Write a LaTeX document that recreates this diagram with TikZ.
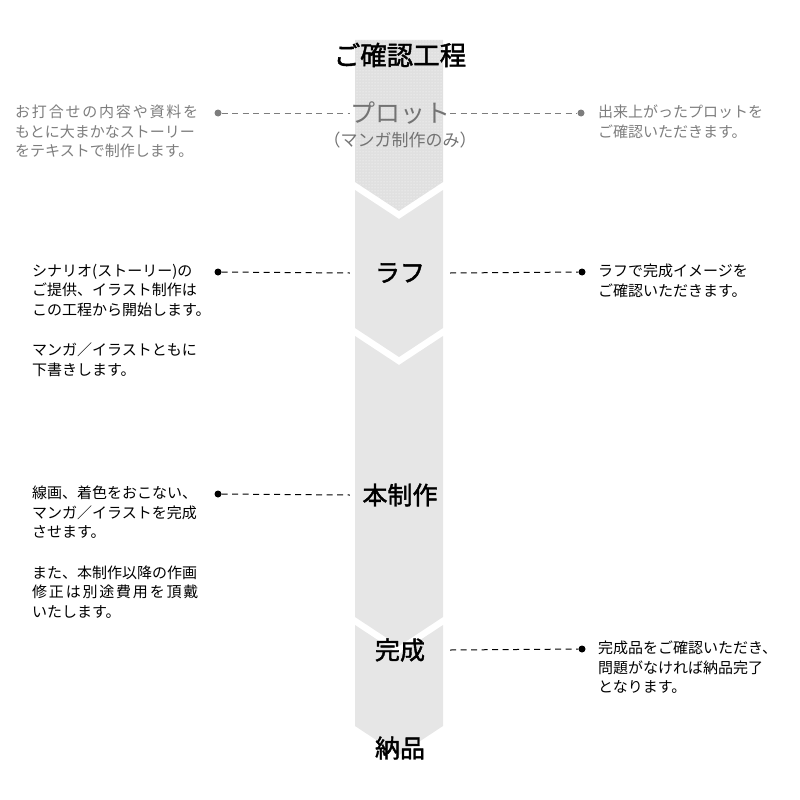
\documentclass[tikz,border=0pt]{standalone}
\usepackage{fontspec}
\setmainfont{Noto Sans CJK JP}
\newfontfamily\stagefont[FakeBold=1.6]{Noto Sans CJK JP}
\usetikzlibrary{patterns}
\definecolor{barfill}{RGB}{230,230,230}
\definecolor{plotfill}{RGB}{224,224,224}
\definecolor{plotgray}{RGB}{115,115,115}
\definecolor{notegray}{RGB}{125,125,125}
\newcommand{\wide}[1]{{\addfontfeature{LetterSpace=12}#1}}
\tikzset{
  stage/.style={inner sep=0pt, minimum width=100pt, font=\fontsize{25}{30}\stagefont},
  substage/.style={inner sep=0pt, font=\fontsize{17}{20}\selectfont},
  headline/.style={inner sep=0pt, font=\fontsize{26.5}{31}\stagefont},
  note/.style={anchor=north west, align=left, inner sep=0pt, font=\fontsize{15}{19.5}\selectfont},
  endpt/.style={circle, fill=black, inner sep=0pt, minimum size=7pt},
  link/.style={dash pattern=on 6pt off 4.5pt, line width=1pt}
}

\begin{document}
\begin{tikzpicture}[x=1pt, y=-1pt]
  \useasboundingbox (0,0) rectangle (800,800);

  % the bar, cut into stages
  \path[fill=plotfill, postaction={pattern=dots, pattern color=white}]
    (355,40) -- (443,40) -- (443,182) -- (399,211) -- (355,182) -- cycle;
  \foreach \t/\b in {190/328, 336/617, 625/726}
    \fill[barfill] (355,\t) -- (399,\t+29) -- (443,\t) -- (443,\b) -- (399,\b+29) -- (355,\b) -- cycle;

  % stage names
  \node[headline] (title) at (400,55) {ご確認工程};
  \node[stage, text=plotgray, font=\fontsize{25}{30}\selectfont] (plot) at (400,113) {プロット};
  \node[substage, text=plotgray] (plotsub) at (400,140) {（マンガ制作のみ）};
  \node[stage] (rough) at (400,273) {ラフ};
  \node[stage] (main) at (400,495) {本制作};
  \node[stage] (done) at (400,650) {完成};
  \node[stage] (deliver) at (400,748) {納品};

  % notes
  \node[note, text=notegray] (plotL) at (15,105) {\wide{お打合せの内容や資料を}\\もとに大まかなストーリー\\をテキストで制作します。};
  \node[note, text=notegray] (plotR) at (598,105) {出来上がったプロットを\\ご確認いただきます。};
  \node[note] (roughL) at (32,264) {シナリオ(ストーリー)の\\ご提供、イラスト制作は\\この工程から開始します。\\[21pt]マンガ／イラストともに\\下書きします。};
  \node[note] (roughR) at (598,264) {ラフで完成イメージを\\ご確認いただきます。};
  \node[note] (mainL) at (32,486) {線画、着色をおこない、\\マンガ／イラストを完成\\させます。\\[21pt]また、本制作以降の作画\\\wide{修正は別途費用を頂戴}\\いたします。};
  \node[note] (doneR) at (598,641) {完成品をご確認いただき、\\問題がなければ納品完了\\となります。};

  % dots and dashed leaders
  \node[endpt, fill=notegray] (plotLd) at (218,113) {};
  \node[endpt, fill=notegray] (plotRd) at (581,113) {};
  \node[endpt] (roughLd) at (218,272) {};
  \node[endpt] (roughRd) at (582,272) {};
  \node[endpt] (mainLd) at (218,494) {};
  \node[endpt] (doneRd) at (582,649) {};

  \draw[link, draw=notegray] (plotLd) -- (plot.west);
  \draw[link, draw=notegray] (plot.east) -- (plotRd);
  \draw[link] (roughLd) -- (rough.west);
  \draw[link] (rough.east) -- (roughRd);
  \draw[link] (mainLd) -- (main.west);
  \draw[link] (done.east) -- (doneRd);
\end{tikzpicture}
\end{document}
